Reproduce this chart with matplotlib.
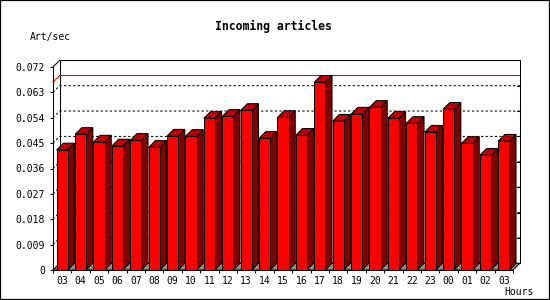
import matplotlib
matplotlib.use("Agg")
import matplotlib.pyplot as plt
from matplotlib.patches import Polygon, Rectangle

# ---- data ----
hours = ["03", "04", "05", "06", "07", "08", "09", "10", "11", "12", "13", "14", "15",
         "16", "17", "18", "19", "20", "21", "22", "23", "00", "01", "02", "03"]
rates = [0.0426, 0.0481, 0.0454, 0.0440, 0.0460, 0.0435, 0.0475, 0.0474, 0.0538,
         0.0545, 0.0566, 0.0467, 0.0541, 0.0478, 0.0666, 0.0528, 0.0553, 0.0577,
         0.0538, 0.0520, 0.0489, 0.0570, 0.0449, 0.0407, 0.0457]
yticks = [0, 0.009, 0.018, 0.027, 0.036, 0.045, 0.054, 0.063, 0.072]
ytick_labels = ["0", "0.009", "0.018", "0.027", "0.036", "0.045", "0.054", "0.063", "0.072"]
title = "Incoming articles"
ylabel = "Art/sec"
xlabel = "Hours"

FRONT = "#ff0000"
SIDE = "#800000"
TOP = "#c00000"
FLOOR = "#909090"
LW = 0.75
MONO = "DejaVu Sans Mono"

W, H = 550, 300
fig = plt.figure(figsize=(W / 100, H / 100), dpi=100)
fig.patch.set_facecolor("white")
ax_l, ax_b, ax_w, ax_h = 53, 30, 460, 203
ax = fig.add_axes([ax_l / W, ax_b / H, ax_w / W, ax_h / H])
n = len(rates)
ymax = yticks[-1]
ax.set_xlim(0, n)
ax.set_ylim(0, ymax)
ax.set_facecolor("none")

# 3D depth offset, in data units (about 6.7 px)
depth_px = 6.7
dx = depth_px * n / ax_w
dy = depth_px * ymax / ax_h

# back wall
wall = Rectangle((dx, dy), n, ymax, facecolor="white", edgecolor="black",
                 lw=LW, clip_on=False, zorder=0.5)
ax.add_patch(wall)
# left wall top & bottom diagonals
ax.plot([0, dx], [ymax, ymax + dy], color="black", lw=LW, clip_on=False, zorder=1)

# dashed gridlines on back wall + left wall
for v in yticks[1:-1]:
    ax.plot([0, dx, n + dx], [v, v + dy, v + dy], color="black", lw=LW,
            linestyle=(0, (2.2, 2.2)), clip_on=False, zorder=1)
    # small ticks on right edge of back wall
    ax.plot([n + dx - 3 * n / ax_w, n + dx], [v + dy, v + dy], color="black",
            lw=LW, clip_on=False, zorder=1)

# max line in red
vmax = max(rates)
ax.plot([0, dx, n + dx], [vmax, vmax + dy, vmax + dy], color="#e00000", lw=LW,
        clip_on=False, zorder=1.2)

# floor
floor = Polygon([(0, 0), (n, 0), (n + dx, dy), (dx, dy)], closed=True,
                facecolor=FLOOR, edgecolor="black", lw=LW, clip_on=False, zorder=1.5)
ax.add_patch(floor)

# bars
bw = 0.6
off = 0.2
for i, v in enumerate(rates):
    x0 = i + off
    x1 = x0 + bw
    ax.add_patch(Polygon([(x1, 0), (x1 + dx, dy), (x1 + dx, v + dy), (x1, v)],
                         closed=True, facecolor=SIDE, edgecolor="black", lw=LW,
                         clip_on=False, zorder=3))
    ax.add_patch(Polygon([(x0, v), (x1, v), (x1 + dx, v + dy), (x0 + dx, v + dy)],
                         closed=True, facecolor=TOP, edgecolor="black", lw=LW,
                         clip_on=False, zorder=3))
    ax.add_patch(Rectangle((x0, 0), bw, v, facecolor=FRONT, edgecolor="black",
                           lw=LW, clip_on=False, zorder=3.1))

# axes/ticks
for s in ["top", "right"]:
    ax.spines[s].set_visible(False)
for s in ["left", "bottom"]:
    ax.spines[s].set_linewidth(LW)
    ax.spines[s].set_zorder(4)

ax.set_yticks(yticks)
ax.set_yticklabels(ytick_labels, fontfamily=MONO, fontsize=7)
ax.tick_params(axis="y", direction="out", length=2.4, width=LW, pad=3.2)

ax.set_xticks(range(0, n + 1))
ax.set_xticklabels([])
ax.set_xticks([i + 0.5 for i in range(n)], minor=True)
ax.set_xticklabels(hours, minor=True, fontfamily=MONO, fontsize=7)
ax.tick_params(axis="x", which="major", direction="out", length=2.4, width=LW)
ax.tick_params(axis="x", which="minor", length=0, pad=4.5)

fig.text(273.5 / W, 1 - 26.7 / H, title, ha="center", va="center",
         fontfamily=MONO, fontweight="bold", fontsize=8.3)
fig.text(30 / W, 1 - 36.7 / H, ylabel, ha="left", va="center",
         fontfamily=MONO, fontsize=7)
fig.text(534 / W, 1 - 291.7 / H, xlabel, ha="right", va="center",
         fontfamily=MONO, fontsize=7)

# outer border
fig.patches.append(Rectangle((0, 0), 1, 1, transform=fig.transFigure, fill=False,
                             edgecolor="black", lw=1.6))

fig.savefig("out.png", dpi=100)
